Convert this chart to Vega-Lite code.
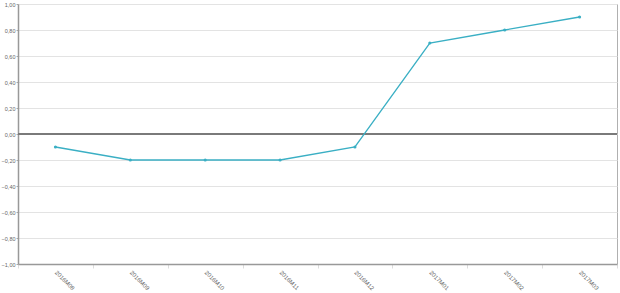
{
  "$schema": "https://vega.github.io/schema/vega-lite/v6.json",
  "width": 599,
  "height": 260,
  "autosize": {"type": "none"},
  "padding": {"left": 18, "top": 4, "right": 3, "bottom": 29},
  "background": "white",
  "config": {
    "view": {"stroke": "#b0b0b0", "strokeWidth": 1},
    "font": "Liberation Sans",
    "axisY": {
      "values": [-1, -0.8, -0.6, -0.4, -0.2, 0, 0.2, 0.4, 0.6, 0.8, 1],
      "labelOverlap": false, "labelFontSize": 5.5, "labelColor": "#666", "labelPadding": 1,
      "domainColor": "#999", "domainWidth": 1.5,
      "tickColor": "#aaa", "tickSize": 2,
      "gridColor": "#e3e3e3", "gridWidth": 1
    }
  },
  "layer": [
    {
      "data": {"values": [{"z": 0}]},
      "mark": {"type": "rule", "color": "#7a7a7a", "strokeWidth": 2},
      "encoding": {"y": {"field": "z", "type": "quantitative", "scale": {"domain": [-1, 1], "nice": false},
        "axis": {"title": null, "values": [-1, -0.8, -0.6, -0.4, -0.2, 0, 0.2, 0.4, 0.6, 0.8, 1],
          "labelExpr": "replace(format(datum.value, '.2f'), '.', ',')"}}}
    },
    {
      "data": {
        "values": [
          {"period": "2016M08", "value": -0.1},
          {"period": "2016M09", "value": -0.2},
          {"period": "2016M10", "value": -0.2},
          {"period": "2016M11", "value": -0.2},
          {"period": "2016M12", "value": -0.1},
          {"period": "2017M01", "value": 0.7},
          {"period": "2017M02", "value": 0.8},
          {"period": "2017M03", "value": 0.9}
        ]
      },
      "mark": {"type": "line", "color": "#3aafc4", "strokeWidth": 1.3, "point": {"filled": true, "size": 10, "color": "#3aafc4"}},
      "encoding": {
        "x": {
          "field": "period", "type": "ordinal", "sort": null,
          "scale": {"type": "band", "paddingInner": 0, "paddingOuter": 0},
          "axis": {
            "title": null, "labelAngle": 45, "labelAlign": "left", "labelBaseline": "middle",
            "labelFontSize": 6, "labelColor": "#666", "labelPadding": 3,
            "domainColor": "#999", "domainWidth": 1.5,
            "tickBand": "extent", "tickColor": "#ddd", "tickSize": 4,
            "grid": false
          }
        },
        "y": {
          "field": "value", "type": "quantitative",
          "scale": {"domain": [-1, 1], "nice": false},
          "axis": {
            "title": null, "values": [-1, -0.8, -0.6, -0.4, -0.2, 0, 0.2, 0.4, 0.6, 0.8, 1],
            "labelExpr": "replace(format(datum.value, '.2f'), '.', ',')"
          }
        }
      }
    }
  ]
}
